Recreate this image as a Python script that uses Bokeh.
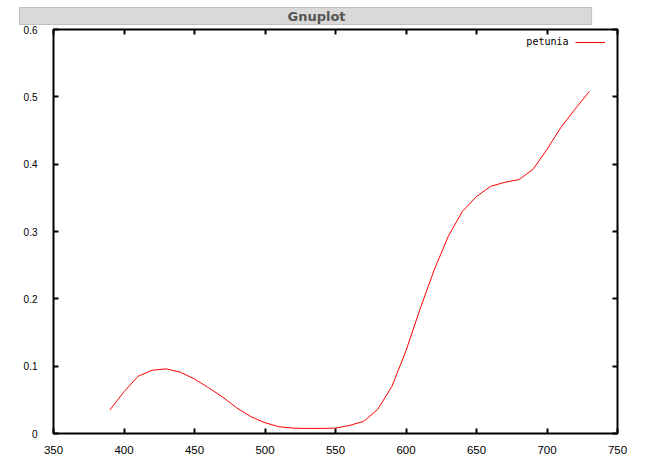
from bokeh.plotting import figure
from bokeh.models import (Range1d, FixedTicker, LinearAxis, Legend, LegendItem,
                          Label, CustomJSTickFormatter)
from bokeh.embed import file_html
from bokeh.resources import INLINE

# ---- data ----
wavelength = [390, 400, 410, 420, 430, 440, 450, 460, 470, 480, 490, 500,
              510, 520, 530, 540, 550, 560, 570, 580, 590, 600, 610, 620,
              630, 640, 650, 660, 670, 680, 690, 700, 710, 720, 730]
petunia = [0.035, 0.062, 0.085, 0.094, 0.096, 0.091, 0.081, 0.068, 0.054,
           0.038, 0.025, 0.016, 0.010, 0.008, 0.0075, 0.0075, 0.008, 0.012,
           0.018, 0.036, 0.070, 0.123, 0.185, 0.243, 0.293, 0.330, 0.352,
           0.367, 0.373, 0.377, 0.392, 0.422, 0.455, 0.482, 0.508]
series_name = "petunia"
window_title = "Gnuplot"
x_ticks = [350, 400, 450, 500, 550, 600, 650, 700, 750]
y_ticks = [0, 0.1, 0.2, 0.3, 0.4, 0.5, 0.6]
y_tick_labels = ["0", "0.1", "0.2", "0.3", "0.4", "0.5", "0.6"]

p = figure(width=632, height=459, output_backend="svg", toolbar_location=None,
           x_range=Range1d(350, 750), y_range=Range1d(0, 0.6),
           min_border_left=53, min_border_right=15, min_border_top=28,
           min_border_bottom=26)
p.background_fill_color = "white"
p.border_fill_color = "white"
p.outline_line_color = "black"
p.outline_line_width = 2
p.grid.visible = False

# window title bar
p.title.text = window_title
p.title.align = "left"
p.title.text_color = "#555555"
p.title.text_font = "DejaVu Sans"
p.title.text_font_size = "13px"
p.title.text_font_style = "bold"
p.title.background_fill_color = "#d9d9d9"
p.title.border_line_color = "#c0c0c0"
p.title.padding = dict(left=268, right=246, top=1, bottom=1)
p.title.offset = -34
p.title.standoff = 10

def style_axis(ax, font_size, standoff):
    ax.axis_line_color = None
    ax.major_tick_in = 5
    ax.major_tick_out = 0
    ax.major_tick_line_width = 2
    ax.major_tick_line_color = "black"
    ax.minor_tick_line_color = None
    ax.major_label_text_font = "Liberation Sans"
    ax.major_label_text_font_size = font_size
    ax.major_label_text_color = "black"
    ax.major_label_standoff = standoff

xa = p.xaxis[0]
xa.ticker = FixedTicker(ticks=x_ticks)
style_axis(xa, "11.5px", 12)

ya = p.yaxis[0]
ya.ticker = FixedTicker(ticks=y_ticks)
ya.major_label_overrides = {t: s for t, s in zip(y_ticks, y_tick_labels)}
style_axis(ya, "10px", 16)

blank = CustomJSTickFormatter(code="return ''")
top = LinearAxis(ticker=FixedTicker(ticks=x_ticks), formatter=blank)
style_axis(top, "1px", 0)
right = LinearAxis(ticker=FixedTicker(ticks=y_ticks), formatter=blank)
style_axis(right, "1px", 0)
p.add_layout(top, "above")
p.add_layout(right, "right")

r = p.line(wavelength, petunia, line_color="red", line_width=1)

legend = Legend(items=[LegendItem(label=" ", renderers=[r])],
                location=(522, 386), padding=0, margin=0, spacing=0,
                glyph_width=30, glyph_height=10, label_standoff=0,
                label_width=0, label_height=10,
                label_text_font_size="10px",
                border_line_alpha=0, background_fill_alpha=0)
p.add_layout(legend, "center")

p.add_layout(Label(x=515, y=392, x_units="screen", y_units="screen",
                   text=series_name, text_align="right", text_baseline="middle",
                   text_font="DejaVu Sans Mono", text_font_size="10px",
                   text_color="black"))

open("out.html", "w").write(file_html(p, INLINE))
